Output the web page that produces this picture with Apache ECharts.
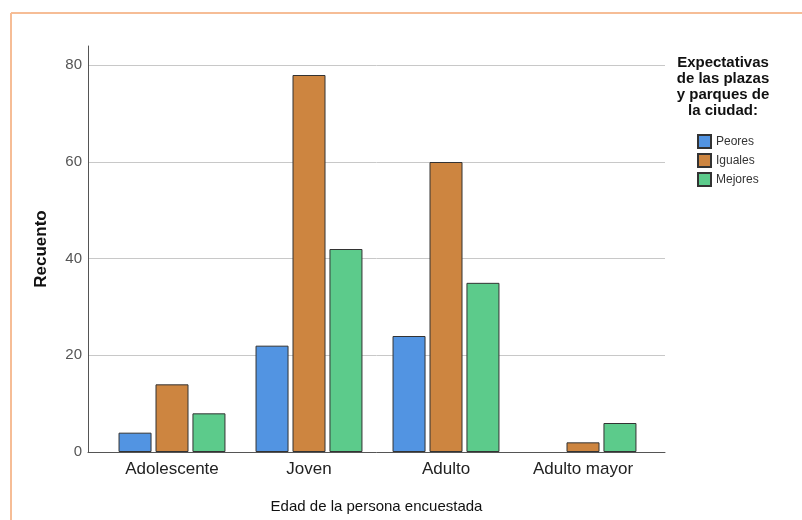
<!DOCTYPE html>
<html>
<head>
<meta charset="utf-8">
<script src="https://cdn.jsdelivr.net/npm/echarts@6/dist/echarts.min.js"></script>
<style>
  html, body { margin: 0; padding: 0; background: #fff; }
  #chart { width: 802px; height: 520px; }
</style>
</head>
<body>
<div id="chart"></div>
<script>
var categories = ['Adolescente', 'Joven', 'Adulto', 'Adulto mayor'];
var seriesNames = ['Peores', 'Iguales', 'Mejores'];
var peores = [4, 22, 24, null];
var iguales = [14, 78, 60, 2];
var mejores = [8, 42, 35, 6];
var yTicks = [0, 20, 40, 60, 80];
var colors = ['#5294e2', '#cd8540', '#5ccb8b'];
var font = 'Arial, "Liberation Sans", sans-serif';

var chart = echarts.init(document.getElementById('chart'));

function makeBar(name, data, idx) {
    return {
        name: name,
        type: 'bar',
        xAxisIndex: 1,
        yAxisIndex: 1,
        data: data,
        barWidth: 33,
        barGap: '12%',
        itemStyle: { color: colors[idx], borderColor: '#333', borderWidth: 1 }
    };
}

var option = {
    animation: false,
    textStyle: { fontFamily: font },
    grid: [
        { left: 88, width: 577, top: 46, bottom: 68, outerBoundsMode: 'none', containLabel: false },
        { left: 103.5, width: 548, top: 46, bottom: 68, outerBoundsMode: 'none', containLabel: false }
    ],
    xAxis: [{
        type: 'category',
        gridIndex: 0,
        data: categories,
        axisLine: { lineStyle: { color: '#555' } },
        axisTick: { show: false },
        axisLabel: { show: false },
        name: 'Edad de la persona encuestada',
        nameLocation: 'middle',
        nameGap: 47,
        nameTextStyle: { fontSize: 15, color: '#111' }
    }, {
        type: 'category',
        gridIndex: 1,
        data: categories,
        axisLine: { show: false },
        axisTick: { show: false },
        axisLabel: { fontSize: 17, color: '#222', margin: 9 }
    }],
    yAxis: [{
        type: 'value',
        gridIndex: 0,
        min: 0,
        max: 84,
        interval: 20,
        axisLine: { show: true, lineStyle: { color: '#555' } },
        axisTick: { show: false },
        axisLabel: {
            fontSize: 15, color: '#555', margin: 6,
            formatter: function (v) { return yTicks.indexOf(v) >= 0 ? String(v) : ''; }
        },
        splitLine: { lineStyle: { color: ['#c8c8c8', '#c8c8c8', '#c8c8c8', '#c8c8c8', '#c8c8c8', 'rgba(0,0,0,0)'] } },
        name: 'Recuento',
        nameLocation: 'middle',
        nameGap: 38,
        nameTextStyle: { fontSize: 17, fontWeight: 'bold', color: '#111' }
    }, {
        type: 'value',
        gridIndex: 1,
        min: 0,
        max: 84,
        show: false
    }],
    legend: {
        orient: 'vertical',
        left: 692,
        top: 129,
        icon: 'rect',
        itemWidth: 13,
        itemHeight: 13,
        itemGap: 4,
        itemTextGap: 3,
        data: seriesNames,
        textStyle: { fontSize: 12, color: '#333' }
    },
    graphic: [{
        type: 'text',
        x: 723,
        y: 55,
        style: {
            text: 'Expectativas\nde las plazas\ny parques de\nla ciudad:',
            font: 'bold 15px ' + font,
            fill: '#111',
            align: 'center',
            verticalAlign: 'top',
            lineHeight: 16
        }
    }, {
        type: 'line',
        shape: { x1: 11, y1: 13, x2: 802, y2: 13 },
        style: { stroke: '#f6bd96', lineWidth: 2 }
    }, {
        type: 'line',
        shape: { x1: 11, y1: 13, x2: 11, y2: 520 },
        style: { stroke: '#f6bd96', lineWidth: 2 }
    }],
    series: [
        makeBar(seriesNames[0], peores, 0),
        makeBar(seriesNames[1], iguales, 1),
        makeBar(seriesNames[2], mejores, 2)
    ]
};

chart.setOption(option);
</script>
</body>
</html>
